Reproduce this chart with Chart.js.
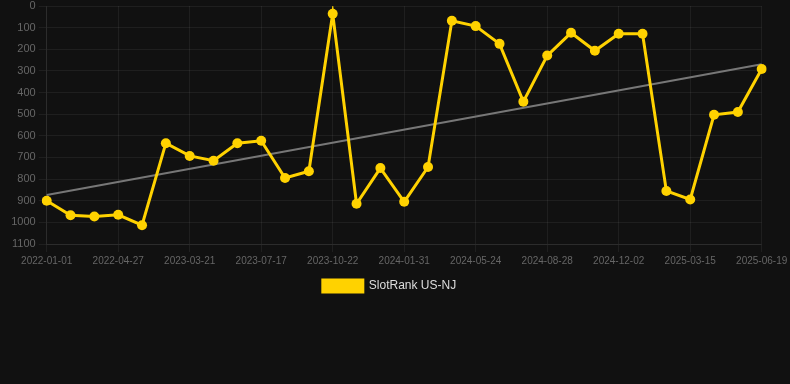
<!DOCTYPE html>
<html>
<head>
<meta charset="utf-8">
<script src="https://cdn.jsdelivr.net/npm/chart.js@4.4.1/dist/chart.umd.min.js"></script>
<style>
  html, body { margin: 0; padding: 0; background: #111111; }
  #wrap { position: relative; width: 790px; height: 302px; }
</style>
</head>
<body>
<div id="wrap"><canvas id="c"></canvas></div>
<script>
const dates = [
  '2022-01-01','2022-02-08','2022-03-19','2022-04-27','2022-06-04','2023-02-11',
  '2023-03-21','2023-04-29','2023-06-07','2023-07-17','2023-08-18','2023-09-20',
  '2023-10-22','2023-11-25','2023-12-28','2024-01-31','2024-03-08','2024-04-16',
  '2024-05-24','2024-06-25','2024-07-27','2024-08-28','2024-09-29','2024-10-31',
  '2024-12-02','2025-01-05','2025-02-08','2025-03-15','2025-04-16','2025-05-18',
  '2025-06-19'
];
const rankNJ = [
  900, 967, 973, 965, 1013, 634, 693, 715, 634, 623, 795, 764, 36, 914, 749, 905,
  744, 68, 93, 175, 442, 229, 124, 207, 128, 128, 855, 894, 503, 490, 291
];
const trendStart = 874;
const trendEnd = 269;
const trendData = dates.map((d, i) => i === 0 ? trendStart : (i === dates.length - 1 ? trendEnd : null));
const yTicks = [0, 100, 200, 300, 400, 500, 600, 700, 800, 900, 1000, 1100];
const seriesName = 'SlotRank US-NJ';

const FONT = "'Liberation Sans', Arial, Helvetica, sans-serif";
const yellow = '#FFD200';

new Chart(document.getElementById('c'), {
  type: 'line',
  data: {
    labels: dates,
    datasets: [
      {
        label: seriesName,
        data: rankNJ,
        borderColor: yellow,
        backgroundColor: yellow,
        borderWidth: 3,
        pointRadius: 5,
        pointHoverRadius: 5,
        pointBackgroundColor: yellow,
        pointBorderColor: yellow,
        pointBorderWidth: 0,
        tension: 0,
        fill: false
      },
      {
        label: 'trend',
        data: trendData,
        borderColor: '#777777',
        backgroundColor: '#777777',
        borderWidth: 2,
        pointRadius: 0,
        spanGaps: true,
        tension: 0,
        fill: false
      }
    ]
  },
  options: {
    responsive: true,
    maintainAspectRatio: false,
    animation: false,
    layout: { padding: { left: 0, right: 11, top: 0, bottom: 0 } },
    plugins: {
      legend: {
        position: 'bottom',
        labels: {
          color: '#dddddd',
          font: { family: FONT, size: 12 },
          boxWidth: 40,
          boxHeight: 12,
          filter: (item) => item.text === seriesName
        }
      },
      tooltip: { enabled: false }
    },
    scales: {
      x: {
        type: 'category',
        grid: { color: 'rgba(255,255,255,0.06)', tickLength: 8 },
        border: { color: 'rgba(255,255,255,0.06)' },
        ticks: {
          color: '#666666',
          font: { family: FONT, size: 10 },
          autoSkip: false,
          maxRotation: 0,
          minRotation: 0,
          callback: function (value, index) {
            return index % 3 === 0 ? this.getLabelForValue(value) : null;
          }
        },
        afterFit: (s) => { s.paddingLeft = 0; s.paddingRight = 28.3; }
      },
      y: {
        reverse: true,
        min: yTicks[0],
        max: yTicks[yTicks.length - 1],
        afterBuildTicks: (s) => { s.ticks = yTicks.map(v => ({ value: v })); },
        grid: { color: 'rgba(255,255,255,0.06)', tickLength: 8 },
        border: { color: 'rgba(255,255,255,0.06)' },
        ticks: {
          color: '#666666',
          font: { family: FONT, size: 11 },
          padding: 3,
          callback: (v) => String(v)
        },
        afterFit: (s) => { s.width = 46.7; s.paddingTop = 6; }
      }
    }
  }
});
</script>
</body>
</html>
